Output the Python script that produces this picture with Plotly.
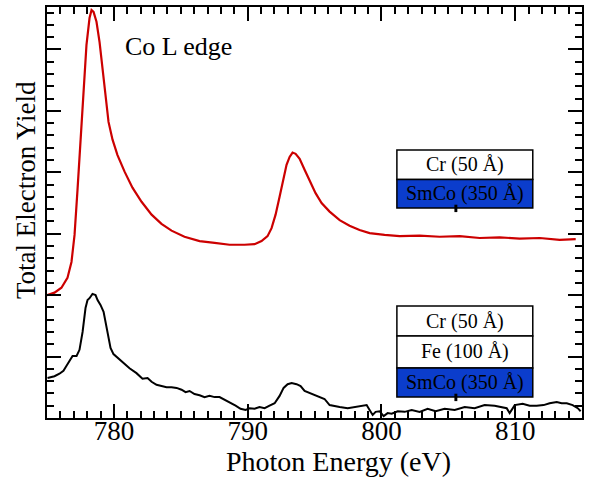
import plotly.graph_objects as go

# Upper (red) spectrum: Cr(50 Å)/SmCo(350 Å)
red_x = [775.0, 775.56, 776.08, 776.53, 776.83, 777.06, 777.28, 777.51, 777.73, 777.95,
         778.18, 778.33, 778.48, 778.70, 778.93, 779.15, 779.38, 779.60, 779.90, 780.27,
         780.80, 781.39, 782.07, 782.82, 783.56, 784.31, 785.28, 786.41, 787.53, 788.65,
         789.77, 790.52, 791.04, 791.49, 791.79, 792.09, 792.39, 792.69, 792.91, 793.14,
         793.36, 793.59, 793.89, 794.26, 794.63, 795.08, 795.53, 796.13, 796.88, 797.62,
         798.37, 799.12, 800.24, 801.37, 802.86, 804.36, 805.85, 807.35, 808.84, 810.34,
         811.84, 813.33, 814.53]
red_y = [2.00, 2.04, 2.12, 2.28, 2.54, 2.98, 3.71, 4.53, 5.34, 6.07,
         6.51, 6.64, 6.61, 6.45, 6.12, 5.67, 5.18, 4.82, 4.53, 4.28,
         4.01, 3.75, 3.52, 3.31, 3.16, 3.05, 2.95, 2.88, 2.85, 2.82,
         2.82, 2.83, 2.88, 2.96, 3.09, 3.31, 3.60, 3.91, 4.12, 4.25,
         4.32, 4.30, 4.22, 4.04, 3.86, 3.66, 3.50, 3.36, 3.22, 3.13,
         3.06, 3.01, 2.98, 2.96, 2.97, 2.95, 2.96, 2.93, 2.94, 2.92,
         2.93, 2.90, 2.91]

# Lower (black) spectrum: Cr(50 Å)/Fe(100 Å)/SmCo(350 Å)
black_x = [775.04, 775.56, 775.93, 776.23, 776.46, 776.68, 776.91, 777.21, 777.43, 777.66,
           777.88, 778.03, 778.18, 778.40, 778.63, 778.78, 779.00, 779.23, 779.38, 779.53,
           779.75, 779.97, 780.27, 780.65, 781.17, 781.69, 782.14, 782.52, 782.82, 783.19,
           783.56, 783.94, 784.31, 784.69, 785.06, 785.36, 785.66, 786.03, 786.41, 786.78,
           787.15, 787.53, 787.90, 788.35, 788.72, 789.10, 789.47, 789.85, 790.15, 790.52,
           790.89, 791.27, 791.64, 792.02, 792.39, 792.69, 792.99, 793.29, 793.66, 793.96,
           794.26, 794.63, 795.01, 795.38, 795.75, 796.13, 796.50, 796.88, 797.48, 798.00,
           798.52, 798.90, 799.12, 799.35, 799.57, 799.87, 800.17, 800.47, 800.77, 801.22,
           801.74, 802.27, 802.86, 803.46, 804.06, 804.73, 805.48, 806.23, 806.97, 807.72,
           808.47, 809.07, 809.37, 809.59, 809.97, 810.56, 811.09, 811.61, 812.13, 812.58,
           813.11, 813.48, 813.86, 814.30, 814.68, 814.90]
black_y = [0.65, 0.68, 0.72, 0.77, 0.85, 0.94, 1.01, 1.01, 1.11, 1.40,
           1.79, 1.92, 1.95, 2.02, 2.00, 1.92, 1.84, 1.73, 1.56, 1.35,
           1.14, 1.04, 0.98, 0.90, 0.81, 0.73, 0.64, 0.65, 0.59, 0.54,
           0.52, 0.50, 0.50, 0.49, 0.46, 0.42, 0.44, 0.39, 0.37, 0.34,
           0.36, 0.34, 0.34, 0.29, 0.24, 0.20, 0.15, 0.13, 0.16, 0.15,
           0.18, 0.16, 0.20, 0.24, 0.36, 0.49, 0.55, 0.57, 0.55, 0.52,
           0.44, 0.41, 0.37, 0.34, 0.31, 0.21, 0.20, 0.18, 0.16, 0.18,
           0.20, 0.21, 0.13, 0.05, 0.10, 0.11, 0.03, 0.08, 0.07, 0.11,
           0.10, 0.13, 0.10, 0.15, 0.11, 0.15, 0.13, 0.18, 0.16, 0.21,
           0.20, 0.18, 0.16, 0.08, 0.21, 0.23, 0.20, 0.20, 0.21, 0.24,
           0.26, 0.24, 0.24, 0.21, 0.16, 0.11]

x_ticks = [780, 790, 800, 810]

upper_stack = ["Cr (50 Å)", "SmCo (350 Å)"]
lower_stack = ["Cr (50 Å)", "Fe (100 Å)", "SmCo (350 Å)"]

SERIF = "Liberation Serif, Times New Roman, serif"
BLUE = "#0b3dcc"

fig = go.Figure()
fig.add_trace(go.Scatter(x=red_x, y=red_y, mode="lines",
                         line=dict(color="#cc0000", width=2.2), showlegend=False))
fig.add_trace(go.Scatter(x=black_x, y=black_y, mode="lines",
                         line=dict(color="black", width=2), showlegend=False))
# empty trace so the mirrored top/right axes are drawn
fig.add_trace(go.Scatter(x=[], y=[], xaxis="x2", yaxis="y2", showlegend=False))

shapes = []
annotations = []

def add_stack(labels, x0, x1, tops):
    for i, lab in enumerate(labels):
        y1, y0 = tops[i], tops[i + 1]
        fill = BLUE if lab.startswith("SmCo") else "white"
        shapes.append(dict(type="rect", xref="paper", yref="paper",
                           x0=x0, x1=x1, y0=y0, y1=y1,
                           fillcolor=fill, line=dict(color="black", width=1.5)))
        annotations.append(dict(xref="paper", yref="paper", x=(x0 + x1) / 2,
                                y=(y0 + y1) / 2, text=lab, showarrow=False,
                                font=dict(family=SERIF, size=20, color="black"),
                                xanchor="center", yanchor="middle"))

add_stack(upper_stack, 0.654, 0.908, [0.652, 0.580, 0.511])
add_stack(lower_stack, 0.654, 0.908, [0.2725, 0.1995, 0.1217, 0.0511])

# small marks under the SmCo labels
for yb in [0.511, 0.0511]:
    shapes.append(dict(type="rect", xref="paper", yref="paper",
                       x0=0.7615, x1=0.767, y0=yb - 0.010, y1=yb + 0.008,
                       fillcolor="black", line=dict(width=0)))

annotations.append(dict(xref="paper", yref="paper", x=0.142, y=0.905,
                        text="Co L edge", showarrow=False, xanchor="left",
                        yanchor="middle",
                        font=dict(family=SERIF, size=26, color="black")))
annotations.append(dict(xref="paper", yref="paper", x=-0.039, y=0.555,
                        text="Total Electron Yield", showarrow=False,
                        textangle=-90, xanchor="center", yanchor="middle",
                        font=dict(family=SERIF, size=27, color="black")))
annotations.append(dict(xref="paper", yref="paper", x=0.545, y=-0.106,
                        text="Photon Energy (eV)", showarrow=False,
                        xanchor="center", yanchor="middle",
                        font=dict(family=SERIF, size=28, color="black")))

tick_common = dict(ticks="inside", ticklen=14, tickwidth=2, tickcolor="black",
                   showline=True, linewidth=2, linecolor="black",
                   showgrid=False, zeroline=False)

fig.update_layout(
    width=590, height=478,
    margin=dict(l=47, r=8, t=7, b=60),
    paper_bgcolor="white", plot_bgcolor="white",
    shapes=shapes, annotations=annotations,
    xaxis=dict(range=[775, 815], tickvals=x_ticks, ticklabelstandoff=-12,
               tickfont=dict(family=SERIF, size=27, color="black"),
               minor=dict(dtick=1, tick0=775, ticks="inside", ticklen=7, tickwidth=2,
                          tickcolor="black", showgrid=False),
               **tick_common),
    xaxis2=dict(range=[775, 815], matches="x", overlaying="x", side="top",
                tickvals=x_ticks, showticklabels=False,
                minor=dict(dtick=1, tick0=775, ticks="inside", ticklen=7, tickwidth=2,
                           tickcolor="black", showgrid=False),
                **tick_common),
    yaxis=dict(range=[0, 6.69], dtick=1, tick0=0, showticklabels=False,
               minor=dict(dtick=0.2, tick0=0, ticks="inside", ticklen=7, tickwidth=2,
                          tickcolor="black", showgrid=False),
               **tick_common),
    yaxis2=dict(range=[0, 6.69], matches="y", overlaying="y", side="right",
                dtick=1, tick0=0, showticklabels=False,
                minor=dict(dtick=0.2, tick0=0, ticks="inside", ticklen=7, tickwidth=2,
                           tickcolor="black", showgrid=False),
                **tick_common),
)

fig.write_html("out.html", config={"displayModeBar": False},
               post_script="document.body.style.margin='0';document.body.style.padding='0';")
